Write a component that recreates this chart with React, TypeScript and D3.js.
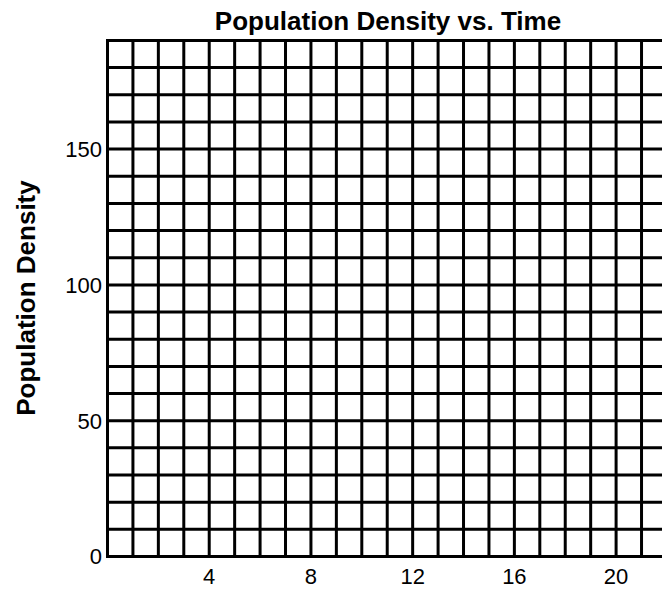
import React, { useEffect, useRef } from "react";
import * as d3 from "d3";

// grid and label values
const xTickLabels = [4, 8, 12, 16, 20];
const yTickLabels = [0, 50, 100, 150];
const xMax = 22; // one column per unit of time
const yMax = 190; // one row per 10 units of density
const yStep = 10;

const title = "Population Density vs. Time";
const yTitle = "Population Density";

const W = 662;
const H = 593;

export default function App() {
  const ref = useRef<SVGSVGElement>(null);

  useEffect(() => {
    const svg = d3.select(ref.current);
    svg.selectAll("*").remove();

    const left = 107.5;
    const bottom = 556.5;
    const x = d3.scaleLinear().domain([0, xMax]).range([left, left + xMax * 25.43]);
    const y = d3.scaleLinear().domain([0, yMax]).range([bottom, bottom - yMax * 2.716]);

    const font = "'Liberation Sans', Arial, sans-serif";

    // vertical grid lines
    svg
      .append("g")
      .selectAll("line")
      .data(d3.range(0, xMax + 1, 1))
      .enter()
      .append("line")
      .attr("x1", (d) => x(d))
      .attr("x2", (d) => x(d))
      .attr("y1", y(0) + 1.5)
      .attr("y2", y(yMax) - 1.5)
      .attr("stroke", "#000")
      .attr("stroke-width", 3);

    // horizontal grid lines
    svg
      .append("g")
      .selectAll("line")
      .data(d3.range(0, yMax + 1, yStep))
      .enter()
      .append("line")
      .attr("x1", x(0) - 1.5)
      .attr("x2", x(xMax))
      .attr("y1", (d) => y(d))
      .attr("y2", (d) => y(d))
      .attr("stroke", "#000")
      .attr("stroke-width", 3);

    // y tick labels
    svg
      .append("g")
      .selectAll("text")
      .data(yTickLabels)
      .enter()
      .append("text")
      .attr("x", 102)
      .attr("y", (d) => y(d))
      .attr("dy", "0.36em")
      .attr("text-anchor", "end")
      .attr("font-family", font)
      .attr("font-size", 22)
      .attr("fill", "#000")
      .text((d) => d);

    // x tick labels
    svg
      .append("g")
      .selectAll("text")
      .data(xTickLabels)
      .enter()
      .append("text")
      .attr("x", (d) => x(d))
      .attr("y", 584)
      .attr("text-anchor", "middle")
      .attr("font-family", font)
      .attr("font-size", 22)
      .attr("fill", "#000")
      .text((d) => d);

    // title
    svg
      .append("text")
      .attr("x", 388)
      .attr("y", 30)
      .attr("text-anchor", "middle")
      .attr("font-family", font)
      .attr("font-weight", "bold")
      .attr("font-size", 26)
      .attr("fill", "#000")
      .text(title);

    // y axis title
    svg
      .append("text")
      .attr("transform", "translate(35,298) rotate(-90)")
      .attr("text-anchor", "middle")
      .attr("font-family", font)
      .attr("font-weight", "bold")
      .attr("font-size", 26)
      .attr("fill", "#000")
      .text(yTitle);
  }, []);

  return (
    <svg
      ref={ref}
      width={W}
      height={H}
      style={{ position: "absolute", left: 0, top: 0, background: "#fff" }}
    ></svg>
  );
}
